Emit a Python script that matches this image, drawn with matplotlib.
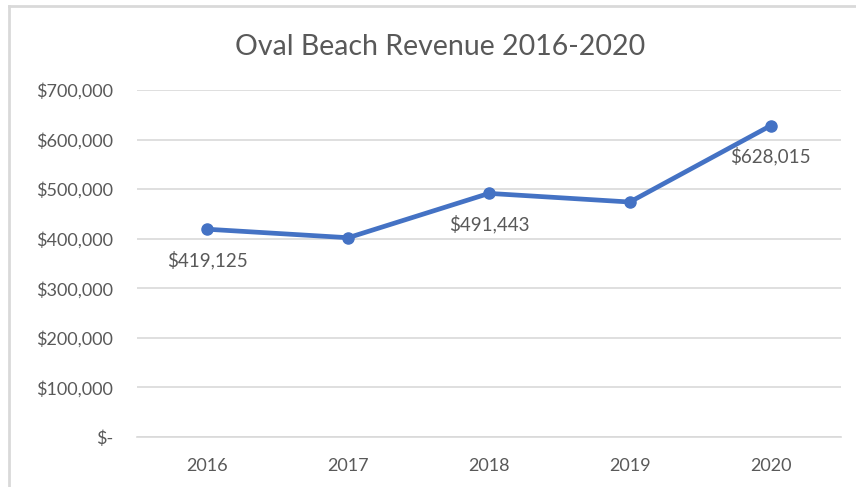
"""
Oval Beach revenue line chart, Excel style.
"""
import matplotlib
matplotlib.use("Agg")
import matplotlib.pyplot as plt
from matplotlib.lines import Line2D
from matplotlib.ticker import FuncFormatter

YEARS = ["2016", "2017", "2018", "2019", "2020"]
REVENUE = [419125, 402000, 491443, 474000, 628015]
LABELLED = [0, 2, 4]  # points that carry a data label
Y_TICKS = [0, 100000, 200000, 300000, 400000, 500000, 600000, 700000]

LINE_BLUE = "#4472C4"
TEXT_GRAY = "#595959"
GRID_GRAY = "#D9D9D9"

plt.rcParams["font.family"] = ["Lato", "DejaVu Sans"]


def money(v, _pos=None):
    if v == 0:
        return "$-"
    return f"${v:,.0f}"


fig = plt.figure(figsize=(8.56, 4.87), dpi=100)
ax = fig.add_axes([137 / 856, 1 - 437 / 487, 704 / 856, 347 / 487])

x = list(range(len(YEARS)))
ax.plot(x, REVENUE, color=LINE_BLUE, linewidth=3.4, marker="o", markersize=8,
        solid_capstyle="round", zorder=3)

for i in LABELLED:
    ax.annotate(money(REVENUE[i]), (x[i], REVENUE[i]), xytext=(0, -22),
                textcoords="offset points", ha="center", va="center",
                fontsize=13.5, color=TEXT_GRAY)

ax.set_xlim(-0.5, len(YEARS) - 0.5)
ax.set_ylim(0, 700000)
ax.set_xticks(x, YEARS)
ax.set_yticks(Y_TICKS)
ax.yaxis.set_major_formatter(FuncFormatter(money))
ax.grid(axis="y", color=GRID_GRAY, linewidth=1.2)
ax.set_axisbelow(True)
ax.tick_params(length=0, labelsize=13, colors=TEXT_GRAY)
ax.tick_params(axis="y", pad=17)
ax.tick_params(axis="x", pad=15)
for side in ["top", "right", "left"]:
    ax.spines[side].set_visible(False)
ax.spines["bottom"].set_color(GRID_GRAY)
ax.spines["bottom"].set_linewidth(1.2)

fig.text(440 / 856, 1 - 47 / 487, "Oval Beach Revenue 2016-2020",
         ha="center", va="center", fontsize=20.5, color=TEXT_GRAY)

# chart frame (only left and top edges visible in the crop)
fig.add_artist(Line2D([9 / 856, 9 / 856], [0, 1 - 6 / 487],
                      transform=fig.transFigure, color="#D9D9D9", linewidth=2))
fig.add_artist(Line2D([9 / 856, 1], [1 - 6 / 487, 1 - 6 / 487],
                      transform=fig.transFigure, color="#D9D9D9", linewidth=2))

fig.savefig("out.png", dpi=100)
